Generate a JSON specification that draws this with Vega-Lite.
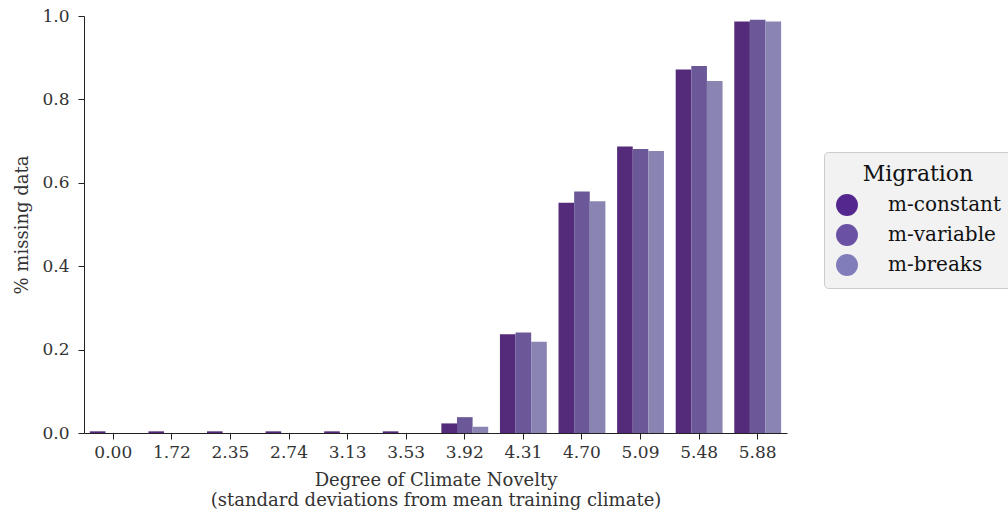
{
  "$schema": "https://vega.github.io/schema/vega-lite/v6.json",
  "width": 703,
  "height": 417,
  "autosize": {"type": "none"},
  "padding": {"left": 84, "top": 16, "right": 221, "bottom": 83},
  "background": "white",
  "data": {
    "values": [
      {"novelty": "0.00", "migration": "m-constant", "value": 0.004},
      {"novelty": "0.00", "migration": "m-variable", "value": 0.0},
      {"novelty": "0.00", "migration": "m-breaks", "value": 0.0},
      {"novelty": "1.72", "migration": "m-constant", "value": 0.004},
      {"novelty": "1.72", "migration": "m-variable", "value": 0.0},
      {"novelty": "1.72", "migration": "m-breaks", "value": 0.0},
      {"novelty": "2.35", "migration": "m-constant", "value": 0.004},
      {"novelty": "2.35", "migration": "m-variable", "value": 0.0},
      {"novelty": "2.35", "migration": "m-breaks", "value": 0.0},
      {"novelty": "2.74", "migration": "m-constant", "value": 0.004},
      {"novelty": "2.74", "migration": "m-variable", "value": 0.0},
      {"novelty": "2.74", "migration": "m-breaks", "value": 0.0},
      {"novelty": "3.13", "migration": "m-constant", "value": 0.004},
      {"novelty": "3.13", "migration": "m-variable", "value": 0.0},
      {"novelty": "3.13", "migration": "m-breaks", "value": 0.0},
      {"novelty": "3.53", "migration": "m-constant", "value": 0.004},
      {"novelty": "3.53", "migration": "m-variable", "value": 0.0},
      {"novelty": "3.53", "migration": "m-breaks", "value": 0.0},
      {"novelty": "3.92", "migration": "m-constant", "value": 0.023},
      {"novelty": "3.92", "migration": "m-variable", "value": 0.038},
      {"novelty": "3.92", "migration": "m-breaks", "value": 0.015},
      {"novelty": "4.31", "migration": "m-constant", "value": 0.237},
      {"novelty": "4.31", "migration": "m-variable", "value": 0.241},
      {"novelty": "4.31", "migration": "m-breaks", "value": 0.219},
      {"novelty": "4.70", "migration": "m-constant", "value": 0.552},
      {"novelty": "4.70", "migration": "m-variable", "value": 0.579},
      {"novelty": "4.70", "migration": "m-breaks", "value": 0.556},
      {"novelty": "5.09", "migration": "m-constant", "value": 0.687},
      {"novelty": "5.09", "migration": "m-variable", "value": 0.681},
      {"novelty": "5.09", "migration": "m-breaks", "value": 0.676},
      {"novelty": "5.48", "migration": "m-constant", "value": 0.872},
      {"novelty": "5.48", "migration": "m-variable", "value": 0.880},
      {"novelty": "5.48", "migration": "m-breaks", "value": 0.844},
      {"novelty": "5.88", "migration": "m-constant", "value": 0.987},
      {"novelty": "5.88", "migration": "m-variable", "value": 0.991},
      {"novelty": "5.88", "migration": "m-breaks", "value": 0.987}
    ]
  },
  "config": {
    "font": "DejaVu Serif",
    "view": {"stroke": null},
    "axis": {
      "labelFont": "DejaVu Serif",
      "titleFont": "DejaVu Serif",
      "labelFontSize": 17,
      "titleFontSize": 18,
      "labelColor": "#333333",
      "titleColor": "#333333",
      "titleFontWeight": "normal",
      "domainColor": "#222222",
      "tickColor": "#222222",
      "tickSize": 6,
      "grid": false
    }
  },
  "encoding": {
    "x": {
      "field": "novelty",
      "type": "nominal",
      "sort": null,
      "scale": {"paddingInner": 0.2, "paddingOuter": 0.1},
      "axis": {
        "labelAngle": 0,
        "labelPadding": 5,
        "title": ["Degree of Climate Novelty", "(standard deviations from mean training climate)"],
        "titlePadding": 11,
        "titleLineHeight": 20
      }
    },
    "xOffset": {
      "field": "migration",
      "type": "nominal",
      "sort": ["m-constant", "m-variable", "m-breaks"],
      "scale": {"paddingInner": 0, "paddingOuter": 0}
    },
    "y": {
      "field": "value",
      "type": "quantitative",
      "scale": {"domain": [0, 1], "nice": false},
      "axis": {
        "title": "% missing data",
        "values": [0, 0.2, 0.4, 0.6, 0.8, 1.0],
        "format": ".1f",
        "labelPadding": 9,
        "titlePadding": 10
      }
    }
  },
  "resolve": {"scale": {"fill": "independent", "color": "independent"}, "legend": {"fill": "independent", "color": "independent"}},
  "layer": [
    {
      "mark": {"type": "bar"},
      "encoding": {
        "fill": {
          "field": "migration",
          "type": "nominal",
          "scale": {
            "domain": ["m-constant", "m-variable", "m-breaks"],
            "range": ["#542a7a", "#6b5898", "#8a84b3"]
          },
          "legend": null
        }
      }
    },
    {
      "mark": {"type": "point", "filled": true, "opacity": 0},
      "encoding": {
        "color": {
          "field": "migration",
          "type": "nominal",
          "scale": {
            "domain": ["m-constant", "m-variable", "m-breaks"],
            "range": ["#54278f", "#6a51a3", "#807dba"]
          },
          "legend": {
            "title": "Migration",
            "orient": "none",
            "legendX": 740,
            "legendY": 136,
            "symbolType": "circle",
            "symbolSize": 480,
            "symbolStrokeWidth": 0,
            "symbolOpacity": 1,
            "titleFont": "DejaVu Serif",
            "titleFontSize": 22,
            "titleFontWeight": "normal",
            "titleColor": "#111111",
            "titleAnchor": "middle",
            "titlePadding": 8,
            "labelFont": "DejaVu Serif",
            "labelFontSize": 20,
            "labelColor": "#111111",
            "labelOffset": 30,
            "rowPadding": 8,
            "padding": 12,
            "fillColor": "#f2f2f2",
            "strokeColor": "#cccccc",
            "cornerRadius": 4
          }
        }
      }
    }
  ]
}
